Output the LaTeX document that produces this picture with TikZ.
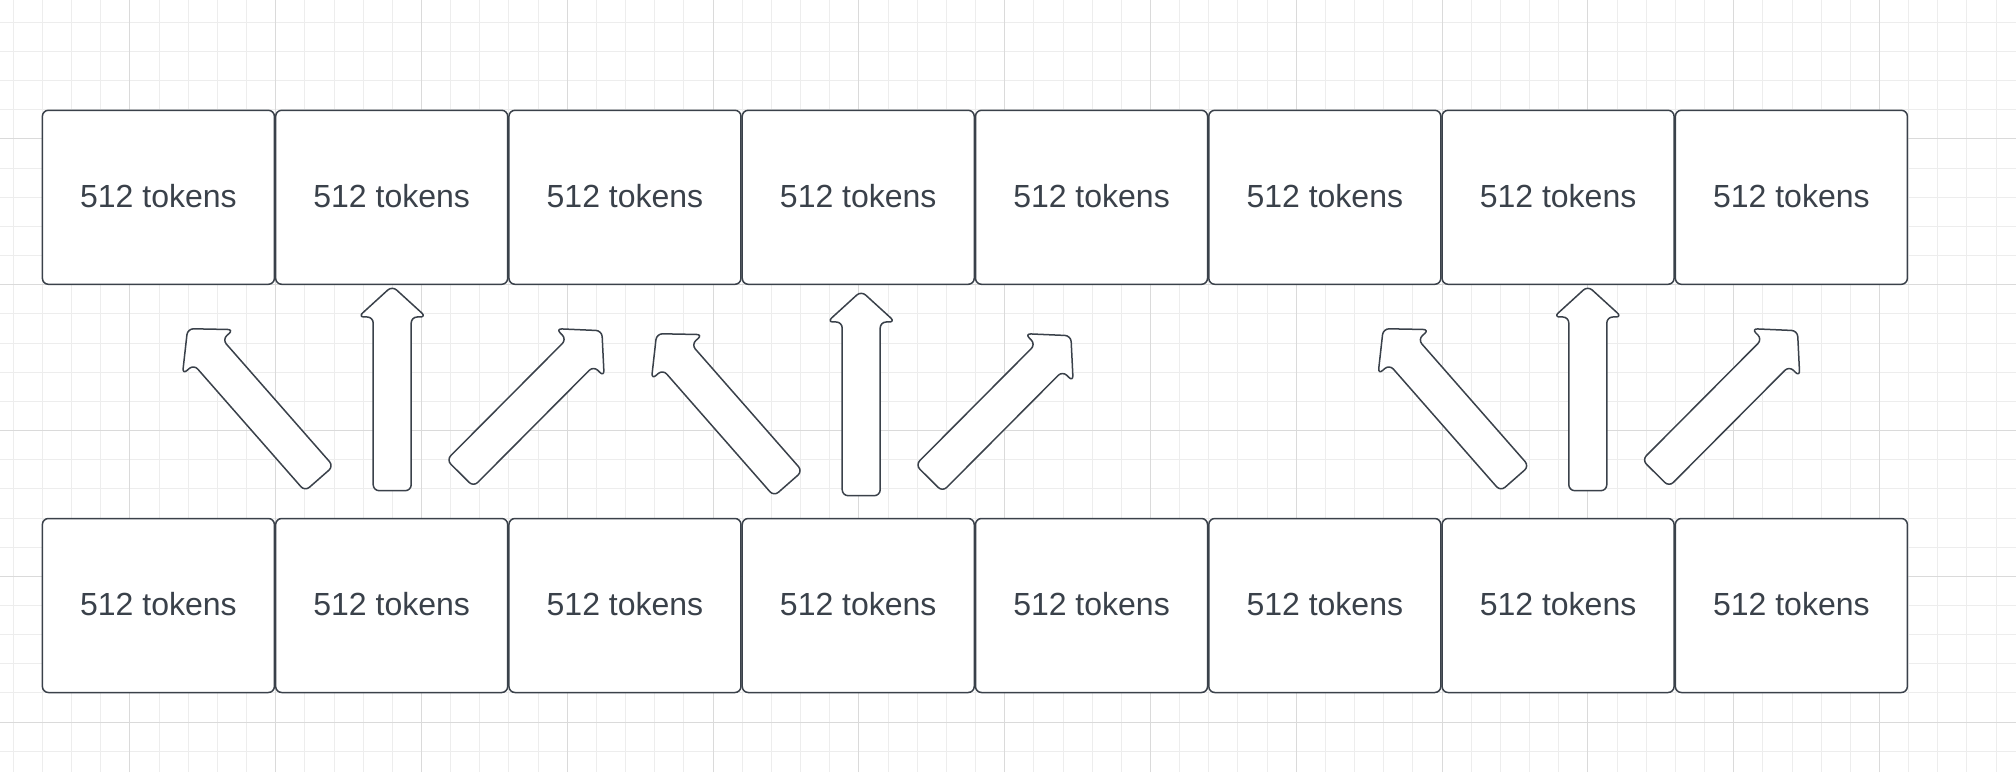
\documentclass[tikz,border=0pt]{standalone}
\usepackage{fontspec}
\setmainfont{Liberation Sans}
\usetikzlibrary{calc}
\definecolor{gridminor}{HTML}{EDEDED}
\definecolor{gridmajor}{HTML}{DADADA}
\definecolor{ink}{HTML}{3A414A}
\tikzset{
  tokbox/.style={draw=ink, line width=1.5pt, fill=white, rounded corners=6pt,
    minimum width=232pt, minimum height=174pt, inner sep=0pt, text=ink,
    text depth=3pt, font=\fontsize{32}{38}\selectfont},
  arrowshape/.style={draw=ink, line width=1.5pt, fill=white, rounded corners=6pt, line join=round},
  minorline/.style={draw=gridminor, line width=1pt},
  majorline/.style={draw=gridmajor, line width=1pt},
}
\newcommand{\drawblockarrow}[2]{%
  \coordinate (hb) at ($(#2)!31pt!(#1)$);
  \draw[arrowshape] ($(#1)!19pt!-90:(#2)$) -- ($(hb)!19pt!-90:(#2)$) -- ($(hb)!34pt!-90:(#2)$) -- (#2)
    -- ($(hb)!34pt!90:(#2)$) -- ($(hb)!19pt!90:(#2)$) -- ($(#1)!19pt!90:(#2)$) -- cycle;
}
\begin{document}
\begin{tikzpicture}[x=1pt,y=1pt]
\useasboundingbox (0,0) rectangle (2016,772);
\fill[white] (0,0) rectangle (2016,772);
% grid
\foreach \k in {0,...,68} \draw[minorline] ({13.24+29.16*\k},0) -- ++(0,772);
\foreach \k in {0,...,25} \draw[minorline] (0,{749.7-29.16*\k}) -- ++(2016,0);
\foreach \k in {4,9,...,64} \draw[majorline] ({13.24+29.16*\k},0) -- ++(0,772);
\foreach \k in {4,9,...,24} \draw[majorline] (0,{749.7-29.16*\k}) -- ++(2016,0);
% boxes
\foreach \i in {0,...,7} {
  \node[tokbox] (t\i) at ({158.4+233.28*\i},574.7) {512 tokens};
  \node[tokbox] (b\i) at ({158.4+233.28*\i},166.5) {512 tokens};
}
% arrow end points
\coordinate (l1t) at (319.2,293.3);  \coordinate (l1h) at (187.6,443.3);
\coordinate (v1t) at (392.2,281.3);  \coordinate (v1h) at (392.2,486);
\coordinate (r1t) at (460,298.7);    \coordinate (r1h) at (601.9,441.3);
\coordinate (l2t) at (788.2,288.3);  \coordinate (l2h) at (656.6,438.3);
\coordinate (v2t) at (861.2,276.3);  \coordinate (v2h) at (861.2,481);
\coordinate (r2t) at (929,293.7);    \coordinate (r2h) at (1070.9,436.3);
\coordinate (l3t) at (1514.8,293.3); \coordinate (l3h) at (1383.2,443.3);
\coordinate (v3t) at (1587.8,281.3); \coordinate (v3h) at (1587.8,486);
\coordinate (r3t) at (1655.6,298.7); \coordinate (r3h) at (1797.5,441.3);
\drawblockarrow{l1t}{l1h}
\drawblockarrow{v1t}{v1h}
\drawblockarrow{r1t}{r1h}
\drawblockarrow{l2t}{l2h}
\drawblockarrow{v2t}{v2h}
\drawblockarrow{r2t}{r2h}
\drawblockarrow{l3t}{l3h}
\drawblockarrow{v3t}{v3h}
\drawblockarrow{r3t}{r3h}
\end{tikzpicture}
\end{document}
